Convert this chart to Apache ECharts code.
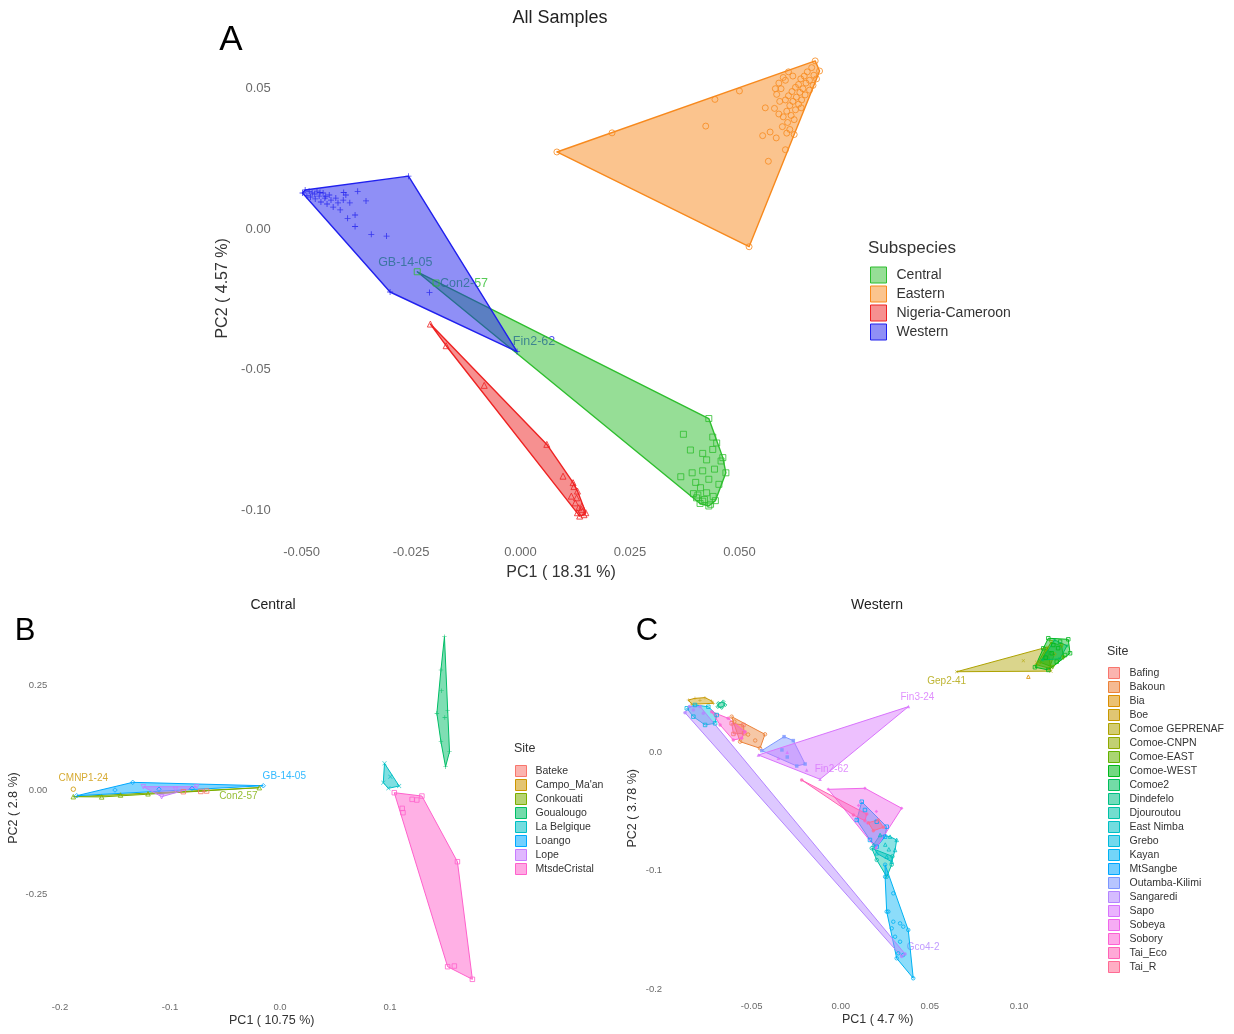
<!DOCTYPE html>
<html>
<head>
<meta charset="utf-8">
<title>PCA of chimpanzee samples</title>
<script src="https://cdn.jsdelivr.net/npm/echarts@6/dist/echarts.min.js"></script>
<style>
  html, body { margin: 0; padding: 0; background: #ffffff; }
  #chart { width: 1234px; height: 1034px; }
</style>
</head>
<body>
<div id="chart"></div>
<script>
// ---------------- Panel A: all samples, grouped by subspecies ----------------
const A_GROUPS = ['Central', 'Eastern', 'Nigeria-Cameroon', 'Western'];
const A_X_TICKS = [-0.05, -0.025, 0, 0.025, 0.05];
const A_Y_TICKS = [0.05, 0, -0.05, -0.1];

const A_CENTRAL = [
  [0.0430,-0.0673],[0.0372,-0.0729],[0.0388,-0.0785],[0.0416,-0.0797],[0.0439,-0.0783],
  [0.0439,-0.0739],[0.0462,-0.0812],[0.0458,-0.0824],[0.0443,-0.0853],[0.0416,-0.0859],
  [0.0469,-0.0866],[0.0392,-0.0866],[0.0366,-0.0880],[0.0430,-0.0889],[0.0453,-0.0907],
  [0.0411,-0.0919],[0.0425,-0.0937],[0.0402,-0.0955],[0.0420,-0.0961],[0.0434,-0.0978],
  [0.0416,-0.0967],[0.0430,-0.0984],[0.0405,-0.0945],[0.0440,-0.0950],[0.0445,-0.0965],
  [0.0395,-0.0940],[0.0410,-0.0975],[0.0448,-0.0760],[0.0425,-0.0820],[0.0400,-0.0900]
];
const A_CENTRAL_NAMED = [['GB-14-05', -0.0236, -0.0151], ['Con2-57', -0.0193, -0.0191]];

const A_EASTERN = [
  [0.0673,0.0599],[0.0683,0.0563],[0.0665,0.0575],[0.0655,0.0560],[0.0670,0.0548],
  [0.0648,0.0545],[0.0660,0.0530],[0.0640,0.0535],[0.0676,0.0535],[0.0652,0.0520],
  [0.0635,0.0515],[0.0668,0.0512],[0.0645,0.0500],[0.0628,0.0505],[0.0660,0.0495],
  [0.0638,0.0487],[0.0620,0.0490],[0.0650,0.0478],[0.0630,0.0470],[0.0612,0.0475],
  [0.0642,0.0460],[0.0622,0.0455],[0.0605,0.0460],[0.0635,0.0445],[0.0615,0.0440],
  [0.0628,0.0425],[0.0608,0.0420],[0.0618,0.0405],[0.0600,0.0400],[0.0625,0.0390],
  [0.0610,0.0380],[0.0598,0.0365],[0.0615,0.0355],[0.0625,0.0337],[0.0608,0.0342],
  [0.0584,0.0325],[0.0570,0.0346],[0.0553,0.0333],[0.0605,0.0283],[0.0566,0.0242],
  [0.0559,0.0432],[0.0641,0.0432],[0.0582,0.0500],[0.0500,0.0492],[0.0444,0.0462],
  [0.0423,0.0367],[0.0209,0.0343],[0.0083,0.0275],[0.0522,-0.0062],
  [0.0600,0.0540],[0.0590,0.0520],[0.0595,0.0500],[0.0605,0.0530],[0.0585,0.0480],
  [0.0592,0.0455],[0.0580,0.0430],[0.0590,0.0410],[0.0612,0.0560],[0.0622,0.0545]
];

const A_NIGERIA = [
  [-0.0206,-0.0337],[-0.0170,-0.0414],[-0.0083,-0.0555],[0.0060,-0.0765],[0.0097,-0.0878],
  [0.0120,-0.0901],[0.0130,-0.0931],[0.0116,-0.0949],[0.0125,-0.0973],[0.0139,-0.0996],
  [0.0135,-0.1020],[0.0149,-0.1008],[0.0130,-0.1008],[0.0122,-0.0915],[0.0128,-0.0955],
  [0.0140,-0.0985],[0.0133,-0.0990],[0.0145,-0.1015]
];

const A_WESTERN = [
  [-0.0498,0.0129],[-0.0492,0.0140],[-0.0488,0.0120],[-0.0483,0.0135],[-0.0476,0.0129],
  [-0.0469,0.0108],[-0.0465,0.0136],[-0.0460,0.0118],[-0.0456,0.0097],[-0.0451,0.0129],
  [-0.0447,0.0111],[-0.0442,0.0090],[-0.0437,0.0122],[-0.0433,0.0104],[-0.0428,0.0079],
  [-0.0422,0.0111],[-0.0417,0.0094],[-0.0412,0.0069],[-0.0405,0.0104],[-0.0399,0.0122],
  [-0.0390,0.0094],[-0.0378,0.0051],[-0.0372,0.0135],[-0.0353,0.0101],[-0.0395,0.0039],
  [-0.0378,0.0010],[-0.0341,-0.0018],[-0.0306,-0.0024],[-0.0404,0.0131],[-0.0256,0.0189],
  [-0.0298,-0.0223],[-0.0208,-0.0225],[-0.0470,0.0125],[-0.0458,0.0131],[-0.0445,0.0117],
  [-0.0480,0.0115]
];
const A_WESTERN_NAMED = [['Fin2-62', -0.0008, -0.0435]];

// ---------------- Panel B: Central subspecies, grouped by site ----------------
const B_SITES = ['Bateke', "Campo_Ma'an", 'Conkouati', 'Goualougo', 'La Belgique', 'Loango', 'Lope', 'MtsdeCristal'];
const B_X_TICKS = [-0.2, -0.1, 0, 0.1];
const B_Y_TICKS = [0.25, 0, -0.25];

const B_BATEKE = [[-0.0879,-0.0040],[-0.0667,-0.0024],[-0.0720,-0.0034]];
const B_CAMPO = [];
const B_CAMPO_NAMED = [['CMNP1-24', -0.1879, 0.0020]];
const B_CONKOUATI = [[-0.1879,-0.0160],[-0.1621,-0.0165],[-0.1450,-0.0120],[-0.1200,-0.0090]];
const B_CONKOUATI_NAMED = [['Con2-57', -0.0188, 0.0056]];
const B_GOUALOUGO = [
  [0.1495,0.3668],[0.1463,0.2871],[0.1469,0.2376],[0.1426,0.1834],[0.1524,0.1897],
  [0.1498,0.1738],[0.1463,0.1156],[0.1541,0.0917],[0.1505,0.0558]
];
const B_LABELGIQUE = [[0.0950,0.0638],[0.0939,0.0176],[0.1003,0.0319],[0.1083,0.0096],[0.0985,0.0040]];
const B_LOANGO = [[-0.1848,-0.0136],[-0.1339,0.0184],[-0.1500,0.0000],[-0.1100,0.0020],[-0.0800,0.0040]];
const B_LOANGO_NAMED = [['GB-14-05', -0.0152, 0.0103]];
const B_LOPE = [[-0.1242,0.0079],[-0.0758,0.0079],[-0.1076,-0.0160],[-0.0950,0.0020]];
const B_MTSDECRISTAL = [
  [0.1039,-0.0064],[0.1201,-0.0223],[0.1244,-0.0239],[0.1290,-0.0144],[0.1613,-0.1715],
  [0.1749,-0.4529],[0.1524,-0.4227],[0.1585,-0.4211],[0.1111,-0.0439],[0.1118,-0.0542]
];

// ---------------- Panel C: Western subspecies, grouped by site ----------------
const C_SITES = ['Bafing', 'Bakoun', 'Bia', 'Boe', 'Comoe GEPRENAF', 'Comoe-CNPN', 'Comoe-EAST',
  'Comoe-WEST', 'Comoe2', 'Dindefelo', 'Djouroutou', 'East Nimba', 'Grebo', 'Kayan', 'MtSangbe',
  'Outamba-Kilimi', 'Sangaredi', 'Sapo', 'Sobeya', 'Sobory', 'Tai_Eco', 'Tai_R'];
const C_X_TICKS = [-0.05, 0, 0.05, 0.1];
const C_Y_TICKS = [0, -0.1, -0.2];

const C_BAFING = [[-0.0612,0.0245],[-0.0546,0.0231],[-0.0542,0.0161],[-0.0602,0.0155]];
const C_BAKOUN = [[-0.0612,0.0301],[-0.0425,0.0152],[-0.0453,0.0034],[-0.0565,0.0090],[-0.0597,0.0259],[-0.0520,0.0150],[-0.0480,0.0100]];
const C_BIA = [[0.1053,0.0639]];
const C_BOE = [[-0.0855,0.0442],[-0.0818,0.0456],[-0.0762,0.0462],[-0.0724,0.0434],[-0.0715,0.0414],[-0.0836,0.0406],[-0.0790,0.0440]];
const C_GEPRENAF = [[0.1160,0.0890],[0.1180,0.0686],[0.1025,0.0774],[0.1100,0.0760]];
const C_GEPRENAF_NAMED = [['Gep2-41', 0.0651, 0.0681]];
const C_CNPN = [[0.1100,0.0740],[0.1150,0.0870],[0.1200,0.0830],[0.1170,0.0710]];
const C_EAST = [[0.1120,0.0760],[0.1180,0.0930],[0.1240,0.0900],[0.1250,0.0800],[0.1190,0.0720]];
const C_WEST = [
  [0.1090,0.0719],[0.1165,0.0964],[0.1231,0.0935],[0.1277,0.0955],[0.1287,0.0837],
  [0.1259,0.0822],[0.1212,0.0766],[0.1165,0.0696],[0.1137,0.0879],[0.1193,0.0907],
  [0.1184,0.0837],[0.1220,0.0880],[0.1150,0.0800]
];
const C_COMOE2 = [[0.1130,0.0780],[0.1200,0.0950],[0.1270,0.0900],[0.1230,0.0790]];
const C_DINDEFELO = [[-0.0687,0.0414],[-0.0659,0.0428],[-0.0649,0.0400],[-0.0668,0.0377],[-0.0690,0.0385]];
const C_DJOUROUTOU = [[0.0174,-0.0811],[0.0290,-0.0880],[0.0286,-0.0950],[0.0258,-0.1052],[0.0202,-0.0910]];
const C_EASTNIMBA = [
  [0.0183,-0.0784],[0.0221,-0.0699],[0.0277,-0.0713],[0.0314,-0.0741],[0.0305,-0.0826],
  [0.0286,-0.0925],[0.0258,-0.0883],[0.0202,-0.0854],[0.0250,-0.0780],[0.0270,-0.0820]
];
const C_GREBO = [[-0.0864,0.0372],[-0.0818,0.0400],[-0.0743,0.0385],[-0.0696,0.0315],[-0.0705,0.0245],[-0.0761,0.0231],[-0.0827,0.0301]];
const C_KAYAN = [
  [0.0249,-0.0950],[0.0249,-0.1052],[0.0295,-0.1192],[0.0379,-0.1502],[0.0407,-0.1910],
  [0.0314,-0.1741],[0.0258,-0.1347],[0.0267,-0.1347],[0.0295,-0.1432],[0.0333,-0.1446],
  [0.0351,-0.1474],[0.0305,-0.1559],[0.0333,-0.1601],[0.0323,-0.1699],[0.0351,-0.1713],
  [0.0286,-0.1488]
];
const C_MTSANGBE = [[0.0118,-0.0418],[0.0136,-0.0488],[0.0202,-0.0587],[0.0258,-0.0629],[0.0249,-0.0713],[0.0202,-0.0798],[0.0164,-0.0741],[0.0090,-0.0572]];
const C_OUTAMBA = [[-0.0443,0.0014],[-0.0318,0.0132],[-0.0266,0.0099],[-0.0200,-0.0099],[-0.0247,-0.0116],[-0.0330,0.0020],[-0.0300,-0.0040]];
const C_SANGAREDI = [[-0.0874,0.0335],[-0.0849,0.0386],[-0.0789,0.0386],[0.0342,-0.1727],[-0.0827,0.0358],[-0.0771,0.0330]];
const C_SANGAREDI_NAMED = [['Gco4-2', 0.0361, -0.1705]];
const C_SAPO = [[-0.0462,-0.0023],[-0.0116,-0.0228],[-0.0300,0.0000],[-0.0350,-0.0050]];
const C_SAPO_NAMED = [['Fin3-24', 0.0380, 0.0386], ['Fin2-62', -0.0191, -0.0149]];
const C_SOBEYA = [[-0.0070,-0.0313],[0.0136,-0.0304],[0.0342,-0.0473],[0.0198,-0.0811],[0.0100,-0.0450],[0.0200,-0.0500],[0.0150,-0.0600]];
const C_SOBORY = [[-0.0724,0.0343],[-0.0631,0.0287],[-0.0537,0.0174],[-0.0556,0.0118],[-0.0603,0.0104],[-0.0677,0.0231]];
const C_TAIECO = [[-0.0219,-0.0234],[0.0146,-0.0522],[0.0136,-0.0578],[0.0071,-0.0530]];
const C_TAIR = [[0.0155,-0.0595],[0.0211,-0.0572],[0.0239,-0.0634],[0.0183,-0.0663]];

// ---------------- styling ----------------
const FONT = '"Liberation Sans", Arial, Helvetica, sans-serif';
const A_COLORS = ['#2EBE2E', '#F7891D', '#EE2222', '#2020EE'];

// ggplot-style hue palette (HCL, l = 65, c = 100)
function hclHex(h, c, l) {
  const hr = h * Math.PI / 180;
  const U = c * Math.cos(hr), V = c * Math.sin(hr);
  const Xn = 95.047, Yn = 100, Zn = 108.883;
  const Y = l > 8 ? Yn * Math.pow((l + 16) / 116, 3) : Yn * l / 903.3;
  const den = Xn + 15 * Yn + 3 * Zn;
  const un = 4 * Xn / den, vn = 9 * Yn / den;
  const u = U / (13 * l) + un, v = V / (13 * l) + vn;
  const X = Y * 9 * u / (4 * v);
  const Z = Y * (12 - 3 * u - 20 * v) / (4 * v);
  const x = X / 100, y = Y / 100, z = Z / 100;
  const lin = [
    3.2404542 * x - 1.5371385 * y - 0.4985314 * z,
    -0.9692660 * x + 1.8760108 * y + 0.0415560 * z,
    0.0556434 * x - 0.2040259 * y + 1.0572252 * z
  ];
  return '#' + lin.map(ch => {
    let g = ch <= 0.0031308 ? 12.92 * ch : 1.055 * Math.pow(ch, 1 / 2.4) - 0.055;
    g = Math.max(0, Math.min(1, g));
    return Math.round(g * 255).toString(16).padStart(2, '0');
  }).join('');
}
function huePal(n) {
  const out = [];
  for (let i = 0; i < n; i++) out.push(hclHex(15 + 360 * i / n, 100, 65));
  return out;
}
function rgba(hex, a) {
  const r = parseInt(hex.slice(1, 3), 16), g = parseInt(hex.slice(3, 5), 16), b = parseInt(hex.slice(5, 7), 16);
  return 'rgba(' + r + ',' + g + ',' + b + ',' + a + ')';
}

// point shapes 0..21, in the order R assigns them
const PLUS = 'path://M4.3,0H5.7V4.3H10V5.7H5.7V10H4.3V5.7H0V4.3H4.3Z';
const CROSS = 'path://M1,0L5,4L9,0L10,1L6,5L10,9L9,10L5,6L1,10L0,9L4,5L0,1Z';
const STAR8 = 'path://M4.3,0H5.7V4.3H10V5.7H5.7V10H4.3V5.7H0V4.3H4.3ZM1,0L5,4L9,0L10,1L6,5L10,9L9,10L5,6L1,10L0,9L4,5L0,1Z';
const TRI_DOWN = 'path://M0,0H10L5,9Z';
const SHAPES = [
  ['rect', false], ['circle', false], ['triangle', false], [PLUS, true], [CROSS, true],
  ['diamond', false], [TRI_DOWN, false], ['rect', false], [STAR8, true], ['diamond', false],
  ['circle', false], ['triangle', false], ['rect', false], ['circle', false], ['rect', false],
  ['rect', true], ['circle', true], ['triangle', true], ['diamond', true], ['circle', true],
  ['circle', true], ['circle', true]
];

// convex hull (monotone chain) of a group's points, in data units
function convexHull(points) {
  const p = points.map(q => [q[0], q[1]]).sort((a, b) => a[0] - b[0] || a[1] - b[1]);
  if (p.length < 3) return p;
  const cross = (o, a, b) => (a[0] - o[0]) * (b[1] - o[1]) - (a[1] - o[1]) * (b[0] - o[0]);
  const lower = [], upper = [];
  for (const q of p) {
    while (lower.length >= 2 && cross(lower[lower.length - 2], lower[lower.length - 1], q) <= 0) lower.pop();
    lower.push(q);
  }
  for (let i = p.length - 1; i >= 0; i--) {
    const q = p[i];
    while (upper.length >= 2 && cross(upper[upper.length - 2], upper[upper.length - 1], q) <= 0) upper.pop();
    upper.push(q);
  }
  upper.pop(); lower.pop();
  return lower.concat(upper);
}

function hullSeries(name, pts, color, gi, alpha, lw) {
  const hull = convexHull(pts);
  return {
    type: 'custom', name: name, xAxisIndex: gi, yAxisIndex: gi, z: 3, silent: true,
    data: hull, encode: { x: 0, y: 1 },
    renderItem: function (params, api) {
      if (params.dataIndex !== 0 || hull.length < 2) return null;
      const px = hull.map(h => api.coord(h));
      if (px.length === 2) {
        return { type: 'polyline', shape: { points: px }, style: { stroke: color, lineWidth: lw, fill: null } };
      }
      return { type: 'polygon', shape: { points: px }, style: { fill: rgba(color, alpha), stroke: color, lineWidth: lw, lineJoin: 'round' } };
    }
  };
}

function pointSeries(name, pts, color, shapeIdx, gi, size) {
  const sh = SHAPES[shapeIdx % SHAPES.length];
  return {
    type: 'scatter', name: name, xAxisIndex: gi, yAxisIndex: gi, z: 4, silent: true,
    symbol: sh[0], symbolSize: size, data: pts,
    itemStyle: sh[1] ? { color: color } : { color: 'rgba(0,0,0,0)', borderColor: color, borderWidth: 1 }
  };
}

// sample labels sit beneath the hulls, offsets in pixels from the sample
const LABEL_OFFSET = {
  'A|GB-14-05': [-12, -9], 'A|Con2-57': [28, 1], 'A|Fin2-62': [17, -10],
  'B|CMNP1-24': [10, -11], 'B|Con2-57': [-21, 9], 'B|GB-14-05': [21, -9],
  'C|Gep2-41': [-10, 10], 'C|Fin3-24': [9, -9], 'C|Fin2-62': [25, -1], 'C|Gco4-2': [18, -7]
};
function labelSeries(panel, named, color, gi, fontSize) {
  return {
    type: 'scatter', name: '__labels_' + panel + named[0][0], xAxisIndex: gi, yAxisIndex: gi, z: 1, silent: true,
    symbolSize: 0, legendHoverLink: false,
    data: named.map(n => ({
      value: [n[1], n[2]],
      label: {
        show: true, formatter: n[0], position: 'inside',
        offset: LABEL_OFFSET[panel + '|' + n[0]] || [0, -8],
        color: color, fontSize: fontSize, fontFamily: FONT
      }
    }))
  };
}

const series = [];
const legends = [];

function addPanel(panel, names, groups, named, colors, shapeOf, gi, opts) {
  names.forEach((nm, i) => {
    const extra = named[i] || [];
    const pts = groups[i].concat(extra.map(n => [n[1], n[2]]));
    series.push(hullSeries(nm, pts, colors[i], gi, opts.alpha, opts.lw));
    series.push(pointSeries(nm, pts, colors[i], shapeOf(i), gi, opts.size));
    if (extra.length) series.push(labelSeries(panel, extra, colors[i], gi, opts.labelSize));
  });
  legends.push({
    orient: 'vertical', left: opts.legLeft, top: opts.legTop,
    itemWidth: opts.key, itemHeight: opts.key, itemGap: opts.keyGap,
    icon: 'rect', selectedMode: true, padding: 0,
    textStyle: { fontSize: opts.legFont, color: '#333', fontFamily: FONT, lineHeight: opts.key, padding: [0, 0, 0, opts.textPad] },
    data: names.map((nm, i) => ({
      name: nm, icon: 'rect',
      itemStyle: { color: rgba(colors[i], opts.keyAlpha), borderColor: colors[i], borderWidth: 1 }
    }))
  });
}

addPanel('A', A_GROUPS, [A_CENTRAL, A_EASTERN, A_NIGERIA, A_WESTERN],
  [A_CENTRAL_NAMED, null, null, A_WESTERN_NAMED], A_COLORS, i => i, 0,
  { alpha: 0.5, lw: 1.4, size: 6, labelSize: 12.5, legLeft: 870, legTop: 266.5, key: 16, keyGap: 2, legFont: 14, textPad: 5, keyAlpha: 0.5 });

const B_COLORS = huePal(B_SITES.length);
addPanel('B', B_SITES,
  [B_BATEKE, B_CAMPO, B_CONKOUATI, B_GOUALOUGO, B_LABELGIQUE, B_LOANGO, B_LOPE, B_MTSDECRISTAL],
  [null, B_CAMPO_NAMED, B_CONKOUATI_NAMED, null, null, B_LOANGO_NAMED, null, null],
  B_COLORS, i => i, 1,
  { alpha: 0.5, lw: 1, size: 4.5, labelSize: 10, legLeft: 515, legTop: 765, key: 11, keyGap: 2, legFont: 10.5, textPad: 4, keyAlpha: 0.55 });

const C_COLORS = huePal(C_SITES.length);
addPanel('C', C_SITES,
  [C_BAFING, C_BAKOUN, C_BIA, C_BOE, C_GEPRENAF, C_CNPN, C_EAST, C_WEST, C_COMOE2, C_DINDEFELO,
   C_DJOUROUTOU, C_EASTNIMBA, C_GREBO, C_KAYAN, C_MTSANGBE, C_OUTAMBA, C_SANGAREDI, C_SAPO,
   C_SOBEYA, C_SOBORY, C_TAIECO, C_TAIR],
  [null, null, null, null, C_GEPRENAF_NAMED, null, null, null, null, null, null, null, null, null,
   null, null, C_SANGAREDI_NAMED, C_SAPO_NAMED, null, null, null, null],
  C_COLORS, i => i, 2,
  { alpha: 0.45, lw: 1, size: 3.5, labelSize: 10, legLeft: 1108, legTop: 667, key: 11, keyGap: 2, legFont: 10.5, textPad: 5, keyAlpha: 0.55 });

function valueAxis(gi, min, max, ticks, digits, name, nameGap, fontSize, nameSize, margin, isY) {
  return {
    type: 'value', gridIndex: gi, min: min, max: max, scale: true,
    name: name, nameLocation: 'middle', nameGap: nameGap,
    nameRotate: isY ? 90 : 0,
    nameTextStyle: { fontSize: nameSize, color: '#333', fontFamily: FONT },
    axisLine: { show: false }, axisTick: { show: false }, splitLine: { show: false },
    axisLabel: {
      customValues: ticks, margin: margin, fontSize: fontSize, color: '#6a6a6a', fontFamily: FONT,
      formatter: v => Number(v).toFixed(digits)
    }
  };
}

const option = {
  backgroundColor: '#ffffff',
  animation: false,
  grid: [
    { left: 276.7, top: 38.1, width: 568.7, height: 500.5 },
    { left: 51.2, top: 619.5, width: 441.1, height: 377 },
    { left: 666.1, top: 621.2, width: 423.2, height: 374.1 }
  ],
  xAxis: [
    valueAxis(0, -0.0557, 0.0742, A_X_TICKS, 3, 'PC1 ( 18.31 %)', 26, 13, 16, 7, false),
    valueAxis(1, -0.208, 0.193, B_X_TICKS, 1, 'PC1 ( 10.75 %)', 18, 9.5, 12.5, 6, false),
    valueAxis(2, -0.098, 0.1395, C_X_TICKS, 2, 'PC1 ( 4.7 %)', 18, 9.5, 12.5, 6, false)
  ],
  yAxis: [
    valueAxis(0, -0.110, 0.068, A_Y_TICKS, 2, 'PC2 ( 4.57 %)', 46, 13, 16, 6, true),
    valueAxis(1, -0.494, 0.408, B_Y_TICKS, 2, 'PC2 ( 2.8 %)', 31, 9.5, 12.5, 4, true),
    valueAxis(2, -0.2054, 0.1108, C_Y_TICKS, 1, 'PC2 ( 3.78 %)', 27, 9.5, 12.5, 4, true)
  ],
  legend: legends,
  series: series,
  graphic: [
    { type: 'text', x: 560, y: 18, style: { text: 'All Samples', font: '18px ' + FONT, fill: '#222', align: 'center', verticalAlign: 'middle' } },
    { type: 'text', x: 231, y: 40, style: { text: 'A', font: '35px ' + FONT, fill: '#000', align: 'center', verticalAlign: 'middle' } },
    { type: 'text', x: 868, y: 248, style: { text: 'Subspecies', font: '17px ' + FONT, fill: '#333', align: 'left', verticalAlign: 'middle' } },
    { type: 'text', x: 273, y: 605, style: { text: 'Central', font: '14px ' + FONT, fill: '#222', align: 'center', verticalAlign: 'middle' } },
    { type: 'text', x: 25, y: 631, style: { text: 'B', font: '31px ' + FONT, fill: '#000', align: 'center', verticalAlign: 'middle' } },
    { type: 'text', x: 514, y: 749, style: { text: 'Site', font: '12.5px ' + FONT, fill: '#333', align: 'left', verticalAlign: 'middle' } },
    { type: 'text', x: 877, y: 605, style: { text: 'Western', font: '14px ' + FONT, fill: '#222', align: 'center', verticalAlign: 'middle' } },
    { type: 'text', x: 647, y: 631, style: { text: 'C', font: '31px ' + FONT, fill: '#000', align: 'center', verticalAlign: 'middle' } },
    { type: 'text', x: 1107, y: 652, style: { text: 'Site', font: '12.5px ' + FONT, fill: '#333', align: 'left', verticalAlign: 'middle' } }
  ]
};

const chart = echarts.init(document.getElementById('chart'), null, { renderer: 'canvas' });
chart.setOption(option);
</script>
</body>
</html>
